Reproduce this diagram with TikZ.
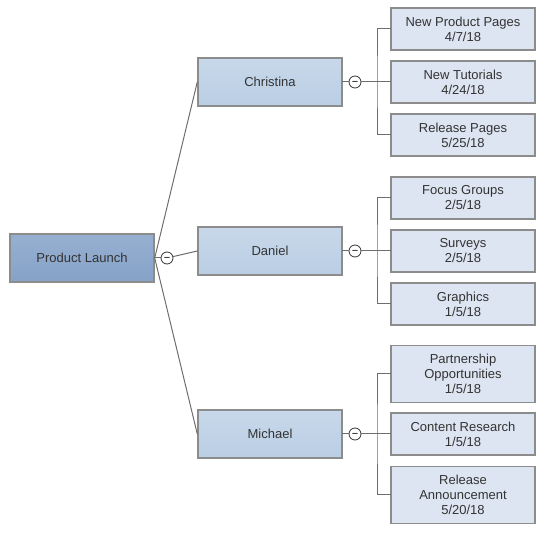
\documentclass[tikz,border=0pt]{standalone}
\usepackage{fontspec}
\setmainfont{Liberation Sans}
\definecolor{edgegray}{HTML}{6E6E6E}
\definecolor{boxgray}{HTML}{8C8C8C}
\definecolor{txt}{HTML}{333333}
\definecolor{roottop}{HTML}{96B0D1}
\definecolor{rootbot}{HTML}{86A2C7}
\definecolor{midtop}{HTML}{C8D8EA}
\definecolor{midbot}{HTML}{BACEE4}
\definecolor{leaffill}{HTML}{DCE5F1}
\begin{document}
\begin{tikzpicture}[x=1pt,y=-1pt,line cap=round,
		topic/.style={draw=boxgray,line width=1.4pt,text=txt,minimum width=144pt,minimum height=48pt,inner sep=0pt,align=center,font=\fontsize{13}{15}\selectfont},
		root/.style={topic,top color=roottop,bottom color=rootbot},
		mid/.style={topic,top color=midtop,bottom color=midbot},
		leaf/.style={topic,minimum height=42pt,fill=leaffill},
		knob/.style={circle,draw=black!80,line width=0.8pt,fill=white,minimum size=12pt,inner sep=0pt,text height=0.72em,text depth=0pt,font=\fontsize{11}{11}\selectfont},
		link/.style={draw=edgegray,line width=1pt}]
	\useasboundingbox (0,0) rectangle (550,534);
	\node[root] (r) at (82,258) {Product Launch};
	\node[mid] (0) at (270,82) {Christina};
	\node[mid] (1) at (270,251) {Daniel};
	\node[mid] (2) at (270,434) {Michael};
	\node[leaf] (00) at (463,29) {New Product Pages\\4/7/18};
	\node[leaf] (01) at (463,82) {New Tutorials\\4/24/18};
	\node[leaf] (02) at (463,135) {Release Pages\\5/25/18};
	\node[leaf] (10) at (463,198) {Focus Groups\\2/5/18};
	\node[leaf] (11) at (463,251) {Surveys\\2/5/18};
	\node[leaf] (12) at (463,304) {Graphics\\1/5/18};
	\node[leaf,minimum height=57pt] (20) at (463,374) {Partnership\\Opportunities\\1/5/18};
	\node[leaf] (21) at (463,434) {Content Research\\1/5/18};
	\node[leaf,minimum height=57pt] (22) at (463,495) {Release\\Announcement\\5/20/18};
	\coordinate (j0) at (377,82);
	\coordinate (j1) at (377,251);
	\coordinate (j2) at (377,434);
	% root to people
	\draw[link] (r.east) -- (0.west);
	\draw[link] (r.east) -- (2.west);
	\node[knob] (kr) at (167,258) {−};
	\draw[link] (r.east) -- (kr);
	\draw[link] (kr) -- (1.west);
	% people to tasks
	\node[knob] (k0) at (355,82) {−};
	\node[knob] (k1) at (355,251) {−};
	\node[knob] (k2) at (355,434) {−};
	\foreach \i in {0,1,2} {
		\draw[link] (\i.east) -- (k\i);
		\draw[link] (k\i) -- (j\i);
		\draw[link] (\i0.west) -| (j\i) |- (\i2.west);
		\draw[link] (j\i) -- (\i1.west);
	}
\end{tikzpicture}
\end{document}
